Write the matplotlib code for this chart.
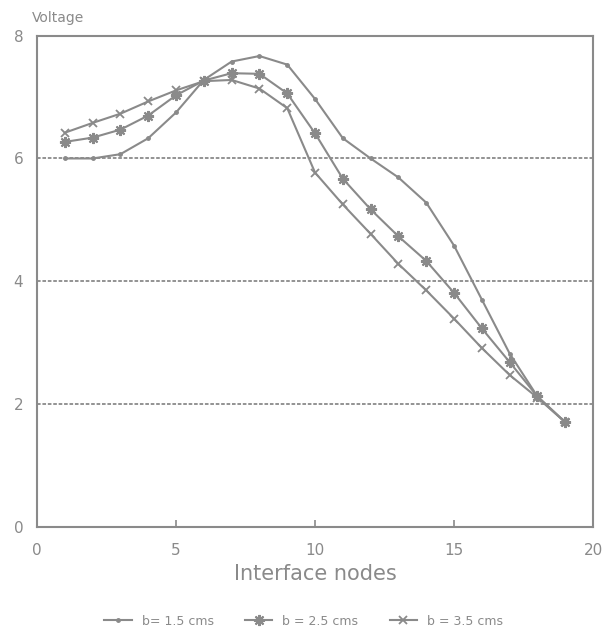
import numpy as np
import matplotlib
matplotlib.use('Agg')
import matplotlib.pyplot as plt

# Donnees
nodes = list(range(1, 20))
v_b15 = [6.0, 6.0, 6.07, 6.33, 6.75, 7.28, 7.58, 7.67, 7.53, 6.97,
         6.33, 6.0, 5.69, 5.28, 4.58, 3.7, 2.82, 2.12, 1.7]
v_b25 = [6.27, 6.34, 6.47, 6.70, 7.03, 7.27, 7.39, 7.38, 7.06, 6.41,
         5.67, 5.17, 4.73, 4.33, 3.81, 3.23, 2.68, 2.12, 1.7]
v_b35 = [6.42, 6.58, 6.73, 6.93, 7.11, 7.26, 7.28, 7.14, 6.82, 5.77,
         5.25, 4.77, 4.28, 3.85, 3.39, 2.91, 2.47, 2.1, 1.7]
labels = ['b= 1.5 cms', 'b = 2.5 cms', 'b = 3.5 cms']

grey = '#8a8a8a'
plt.rcParams['font.family'] = 'DejaVu Sans'

fig = plt.figure(figsize=(6.07, 6.39), dpi=100)
ax = fig.add_axes([0.061, 0.176, 0.916, 0.768])

ax.plot(nodes, v_b15, color=grey, lw=1.5, marker='o', ms=2.5,
        label=labels[0])
ax.plot(nodes, v_b25, color=grey, lw=1.5, marker=(8, 2, 0), ms=8,
        mew=1.5, label=labels[1])
ax.plot(nodes, v_b35, color=grey, lw=1.5, marker='x', ms=6,
        mew=1.3, label=labels[2])

# lignes horizontales pointillees
for yv in [2, 4, 6]:
    ax.axhline(yv, color=grey, lw=1.3, ls=(0, (2, 1)), zorder=0)

ax.set_xlim(0, 20)
ax.set_ylim(0, 8)
ax.set_xticks([0, 5, 10, 15, 20])
ax.set_yticks([0, 2, 4, 6, 8])
ax.tick_params(axis='x', direction='in', length=5, width=1.2, color=grey,
               labelcolor=grey, labelsize=11, pad=12)
ax.tick_params(axis='y', length=0, labelcolor=grey, labelsize=11, pad=10)
for s in ax.spines.values():
    s.set_color(grey)
    s.set_linewidth(1.5)

ax.set_xlabel('Interface nodes', fontsize=15, color=grey, labelpad=4)
fig.text(0.052, 0.972, 'Voltage', fontsize=10, color=grey, ha='left',
         va='center')

fig.legend(loc='lower center', ncol=3, frameon=False, fontsize=9,
           bbox_to_anchor=(0.5, 0.0), handlelength=2.2, columnspacing=2.5,
           labelcolor=grey)

fig.savefig('out.png', dpi=100)
